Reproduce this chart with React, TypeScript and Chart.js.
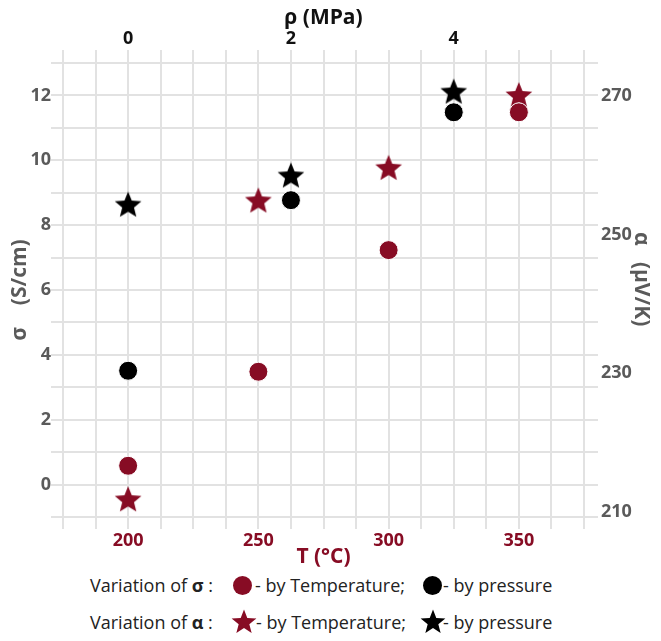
import React, { useEffect, useRef } from "react";
import { Chart, registerables } from "chart.js";

Chart.register(...registerables);

// ---------- data ----------
const temperatures = [200, 250, 300, 350];
const sigmaByTemperature = [0.58, 3.48, 7.23, 11.48];
const alphaByTemperature = [211.7, 254.8, 259.5, 270];

const pressures = [0, 2, 4];
const sigmaByPressure = [3.51, 8.77, 11.48];
const alphaByPressure = [254.2, 258.4, 270.5];

const tTickLabels = [200, 250, 300, 350];
const pTickLabels = [0, 2, 4];
const sigmaTickLabels = [0, 2, 4, 6, 8, 10, 12];
const alphaTickLabels = [210, 230, 250, 270];

// ---------- styles ----------
const RED = "#870c24";
const GRAY = "#5a5a5a";
const DARK = "#111111";
const GRID = "#e2e2e2";
const FONT = "'Open Sans', 'DejaVu Sans', sans-serif";
const TICK_FONT = { family: FONT, size: 18, weight: "bold" as const };
const TITLE_FONT = { family: FONT, size: 21, weight: "bold" as const, lineHeight: 1 };

const T_MIN = 175, T_MAX = 375, T_STEP = 12.5;
const P_MIN = -0.8, P_MAX = 5.6, P_STEP = 0.4;
const S_MIN = -1, S_MAX = 13;
const A_MIN = 209.28, A_MAX = 274.76;

function makeStar(color: string, R = 14, r = 6.2) {
  const size = Math.ceil(2 * R + 2);
  const c = document.createElement("canvas");
  c.width = size;
  c.height = size;
  const ctx = c.getContext("2d")!;
  ctx.fillStyle = color;
  ctx.beginPath();
  for (let i = 0; i < 10; i++) {
    const rad = i % 2 === 0 ? R : r;
    const a = -Math.PI / 2 + (i * Math.PI) / 5;
    const x = size / 2 + rad * Math.cos(a);
    const y = size / 2 + rad * Math.sin(a);
    if (i === 0) ctx.moveTo(x, y);
    else ctx.lineTo(x, y);
  }
  ctx.closePath();
  ctx.fill();
  return c;
}

function starPath(cx: number, cy: number, R: number, r: number) {
  const pts: string[] = [];
  for (let i = 0; i < 10; i++) {
    const rad = i % 2 === 0 ? R : r;
    const a = -Math.PI / 2 + (i * Math.PI) / 5;
    pts.push(`${(cx + rad * Math.cos(a)).toFixed(2)},${(cy + rad * Math.sin(a)).toFixed(2)}`);
  }
  return pts.join(" ");
}

const near = (v: number, list: number[]) => list.some((l) => Math.abs(l - v) < 1e-6);

function ChartCanvas() {
  const ref = useRef<HTMLCanvasElement>(null);
  useEffect(() => {
    const redStar = makeStar(RED);
    const blackStar = makeStar("#000000");
    const chart = new Chart(ref.current!, {
      type: "scatter",
      data: {
        datasets: [
          {
            label: "σ by temperature",
            data: temperatures.map((t, i) => ({ x: t, y: sigmaByTemperature[i] })),
            xAxisID: "x",
            yAxisID: "y",
            pointStyle: "circle",
            pointRadius: 9.5,
            backgroundColor: RED,
            borderColor: "#ffffff",
            borderWidth: 1,
          },
          {
            label: "σ by pressure",
            data: pressures.map((p, i) => ({ x: p, y: sigmaByPressure[i] })),
            xAxisID: "x2",
            yAxisID: "y",
            pointStyle: "circle",
            pointRadius: 9.5,
            backgroundColor: "#000000",
            borderColor: "#ffffff",
            borderWidth: 1,
          },
          {
            label: "α by temperature",
            data: temperatures.map((t, i) => ({ x: t, y: alphaByTemperature[i] })),
            xAxisID: "x",
            yAxisID: "y2",
            pointStyle: redStar as any,
            pointRadius: 14,
            backgroundColor: RED,
          },
          {
            label: "α by pressure",
            data: pressures.map((p, i) => ({ x: p, y: alphaByPressure[i] })),
            xAxisID: "x2",
            yAxisID: "y2",
            pointStyle: blackStar as any,
            pointRadius: 14,
            backgroundColor: "#000000",
          },
        ],
      },
      options: {
        responsive: false,
        animation: false,
        layout: { padding: 0 },
        plugins: { legend: { display: false }, tooltip: { enabled: false } },
        scales: {
          x: {
            type: "linear",
            position: "bottom",
            min: T_MIN,
            max: T_MAX,
            afterBuildTicks: (s: any) => {
              const t = [];
              for (let v = T_MIN; v <= T_MAX + 1e-9; v += T_STEP) t.push({ value: v });
              s.ticks = t;
            },
            afterFit: (s: any) => { s.height = 51; },
            ticks: {
              autoSkip: false,
              maxRotation: 0,
              padding: 1,
              color: RED,
              font: TICK_FONT,
              callback: (v: any) => (near(Number(v), tTickLabels) ? String(v) : ""),
            },
            grid: { color: GRID, lineWidth: 2, tickLength: 12 },
            border: { display: false },
            title: {
              display: true,
              text: "T (°C)",
              color: RED,
              font: TITLE_FONT,
              padding: { top: 0, bottom: 0 },
            },
          },
          x2: {
            type: "linear",
            position: "top",
            min: P_MIN,
            max: P_MAX,
            afterBuildTicks: (s: any) => {
              const t = [];
              for (let k = 0; k <= 16; k++) t.push({ value: Math.round((P_MIN + k * P_STEP) * 10) / 10 });
              s.ticks = t;
            },
            afterFit: (s: any) => { s.height = 55; },
            ticks: {
              autoSkip: false,
              maxRotation: 0,
              padding: 0,
              color: DARK,
              font: TICK_FONT,
              callback: (v: any) => (near(Number(v), pTickLabels) ? String(v) : ""),
            },
            grid: { color: GRID, lineWidth: 2, tickLength: 13, drawOnChartArea: false },
            border: { display: false },
            title: {
              display: true,
              text: "ρ (MPa)",
              color: DARK,
              font: TITLE_FONT,
              padding: { top: 0, bottom: 0 },
            },
          },
          y: {
            type: "linear",
            position: "left",
            min: S_MIN,
            max: S_MAX,
            afterBuildTicks: (s: any) => {
              const t = [];
              for (let v = S_MIN; v <= S_MAX; v++) t.push({ value: v });
              s.ticks = t;
            },
            afterFit: (s: any) => { s.width = 55; },
            ticks: {
              autoSkip: false,
              padding: 0,
              color: GRAY,
              font: TICK_FONT,
              callback: (v: any) => (near(Number(v), sigmaTickLabels) ? String(v) : ""),
            },
            grid: { color: GRID, lineWidth: 2, tickLength: 12 },
            border: { display: false },
            title: {
              display: true,
              text: "σ    (S/cm)",
              color: GRAY,
              font: TITLE_FONT,
              padding: { top: 2, bottom: 0 },
            },
          },
          y2: {
            type: "linear",
            position: "right",
            min: A_MIN,
            max: A_MAX,
            afterBuildTicks: (s: any) => {
              const t: any[] = [];
              for (let k = 0; k <= 14; k++) t.push({ value: A_MIN + (k * (A_MAX - A_MIN)) / 14 });
              alphaTickLabels.forEach((a) => t.push({ value: a }));
              t.sort((a, b) => a.value - b.value);
              s.ticks = t;
            },
            afterFit: (s: any) => { s.width = 69; },
            ticks: {
              autoSkip: false,
              padding: 3,
              color: GRAY,
              font: TICK_FONT,
              callback: (v: any) => (near(Number(v), alphaTickLabels) ? String(v) : ""),
            },
            grid: {
              drawOnChartArea: false,
              tickLength: 14,
              lineWidth: 2,
              color: (ctx: any) => (ctx.tick && near(ctx.tick.value, alphaTickLabels) ? "rgba(0,0,0,0)" : GRID),
            },
            border: { display: false },
            title: {
              display: true,
              text: "α   (μV/K)    ",
              color: GRAY,
              font: TITLE_FONT,
              padding: { top: 2, bottom: 0 },
            },
          },
        },
      },
    });
    return () => chart.destroy();
  }, []);
  return <canvas ref={ref} width={645} height={560} style={{ display: "block" }} />;
}

const legendText: React.CSSProperties = {
  position: "absolute",
  fontFamily: FONT,
  fontSize: 18,
  lineHeight: "22px",
  color: "#222222",
  whiteSpace: "nowrap",
};

function Circle({ left, top, color }: { left: number; top: number; color: string }) {
  return (
    <div
      style={{ position: "absolute", left, top, width: 19, height: 19, borderRadius: "50%", background: color }}
    />
  );
}

function Star({ left, top, color }: { left: number; top: number; color: string }) {
  return (
    <svg style={{ position: "absolute", left, top }} width={28} height={28}>
      <polygon points={starPath(14, 14.5, 13, 5.6)} fill={color} />
    </svg>
  );
}

export default function App() {
  const row1 = 577 - 11;
  const row2 = 614 - 11;
  return (
    <div style={{ position: "relative", width: 645, height: 625 }}>
      <ChartCanvas />
      <div style={{ ...legendText, left: 82, top: row1 }}>
        Variation of <b>σ</b> :
      </div>
      <Circle left={225} top={row1 + 2} color={RED} />
      <div style={{ ...legendText, left: 247, top: row1 }}>- by Temperature;</div>
      <Circle left={415} top={row1 + 2} color="#000" />
      <div style={{ ...legendText, left: 435, top: row1 }}>- by pressure</div>

      <div style={{ ...legendText, left: 82, top: row2 }}>
        Variation of <b>α</b> :
      </div>
      <Star left={222} top={row2 - 3} color={RED} />
      <div style={{ ...legendText, left: 248, top: row2 }}>- by Temperature;</div>
      <Star left={411} top={row2 - 3} color="#000" />
      <div style={{ ...legendText, left: 435, top: row2 }}>- by pressure</div>
    </div>
  );
}
